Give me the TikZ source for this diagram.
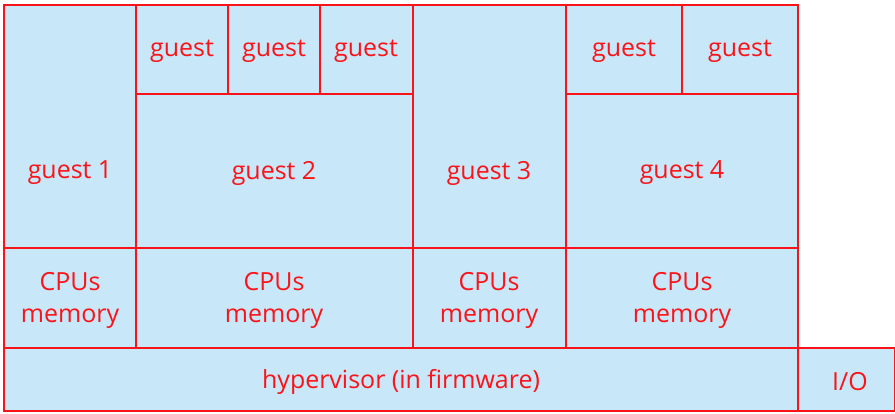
\documentclass[tikz,border=0pt]{standalone}
\usepackage{fontspec}
\setmainfont{Open Sans}
\usepackage{tikz}
\usetikzlibrary{calc}

\definecolor{boxfill}{RGB}{200,232,249}
\definecolor{boxline}{RGB}{250,20,25}

\tikzset{
  cellbox/.style={fill=boxfill, draw=boxline, line width=1.1pt},
  lbl/.style={text=boxline, align=center, font=\fontsize{14.2}{18.2}\selectfont}
}

\begin{document}
\begin{tikzpicture}[x=0.02cm, y=-0.02cm]
         \useasboundingbox (0,0) rectangle (895,413);
         % guest level
         \draw[cellbox] (4,5) rectangle (136,248);
         \draw[cellbox] (136,5) rectangle (228,94);
         \draw[cellbox] (228,5) rectangle (320,94);
         \draw[cellbox] (320,5) rectangle (413,94);
         \draw[cellbox] (136,94) rectangle (413,248);
         \draw[cellbox] (413,5) rectangle (566,248);
         \draw[cellbox] (566,5) rectangle (682,94);
         \draw[cellbox] (682,5) rectangle (798,94);
         \draw[cellbox] (566,94) rectangle (798,248);
         % resources
         \draw[cellbox] (4,248) rectangle (136,348);
         \draw[cellbox] (136,248) rectangle (413,348);
         \draw[cellbox] (413,248) rectangle (566,348);
         \draw[cellbox] (566,248) rectangle (798,348);
         % hypervisor
         \draw[cellbox] (4,348) rectangle (798,411);
         \draw[cellbox] (798,348) rectangle (895,411);

         \node[lbl] (g1) at (70,173) {guest 1};
         \node[lbl] (g2a) at (182,51) {guest};
         \node[lbl] (g2b) at (274,51) {guest};
         \node[lbl] (g2c) at (366,51) {guest};
         \node[lbl] (g2) at (274,173) {guest 2};
         \node[lbl] (g3) at (489,173) {guest 3};
         \node[lbl] (g4a) at (624,51) {guest};
         \node[lbl] (g4b) at (740,51) {guest};
         \node[lbl] (g4) at (682,173) {guest 4};
         \node[lbl] (r1) at (70,300) {CPUs\\memory};
         \node[lbl] (r2) at (274,300) {CPUs\\memory};
         \node[lbl] (r3) at (489,300) {CPUs\\memory};
         \node[lbl] (r4) at (682,300) {CPUs\\memory};
         \node[lbl] (hyp) at (401,382) {hypervisor (in firmware)};
         \node[lbl] (io) at (850,382) {I/O};
      \end{tikzpicture}
\end{document}
